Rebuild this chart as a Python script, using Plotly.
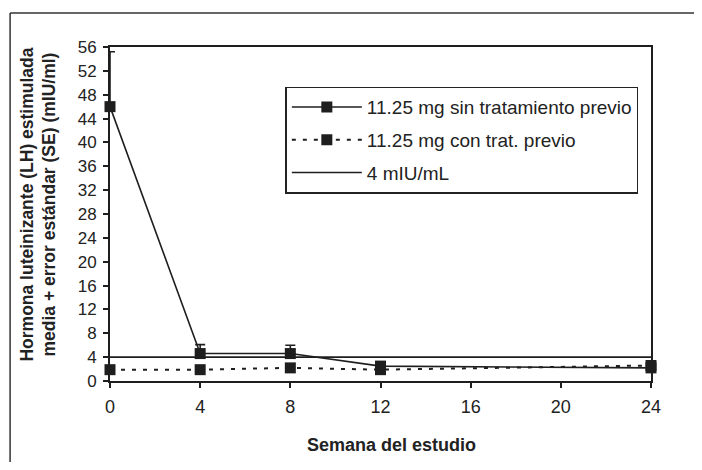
import plotly.graph_objects as go

weeks_a = [0, 4, 8, 12, 24]
lh_naive = [46.0, 4.6, 4.6, 2.5, 2.2]
lh_naive_err = [9.2, 1.5, 1.4, 0.0, 0.0]

weeks_b = [0, 4, 8, 12, 24]
lh_prev = [1.9, 1.9, 2.2, 1.9, 2.6]

ref_x = [0, 24]
ref_y = [4, 4]

x_ticks = [0, 4, 8, 12, 16, 20, 24]
y_ticks = list(range(0, 57, 4))

names = ["11.25 mg sin tratamiento previo", "11.25 mg con trat. previo", "4 mIU/mL"]

C = "#1e1e1e"
W, H = 686, 454
L, R, T, B = 101.5, 43, 39, 81
PW = W - L - R
PH = H - T - B

def px(xs):
    return (xs - 8 - L) / PW

def py(ys):
    return (H - B - (ys - 8)) / PH

fig = go.Figure()
fig.add_trace(go.Scatter(
    x=weeks_a, y=lh_naive, name=names[0], mode="lines+markers",
    line=dict(color=C, width=1.6),
    marker=dict(symbol="square", size=11, color=C),
    error_y=dict(type="data", array=lh_naive_err, arrayminus=[0]*5, symmetric=False,
                 color=C, thickness=1.6, width=5),
    cliponaxis=False, legendgroup="a"))
fig.add_trace(go.Scatter(
    x=weeks_b, y=lh_prev, name=names[1], mode="lines+markers",
    line=dict(color=C, width=2, dash="4px,7px"),
    marker=dict(symbol="square", size=11, color=C),
    cliponaxis=False, legendgroup="b"))
fig.add_trace(go.Scatter(
    x=ref_x, y=ref_y, name=names[2], mode="lines",
    line=dict(color=C, width=1.6), cliponaxis=False, legendgroup="c"))

fig.update_layout(
    width=W, height=H,
    margin=dict(l=L, r=R, t=T, b=B, autoexpand=False),
    paper_bgcolor="white", plot_bgcolor="white",
    font=dict(family="Liberation Sans, Arial, sans-serif", color="#222"),
    showlegend=True,
    legend=dict(x=px(285), y=py(86.7), xanchor="left", yanchor="top",
                bgcolor="white", bordercolor="#222", borderwidth=1.5,
                font=dict(size=19, color="#222"), itemwidth=70,
                tracegroupgap=5, traceorder="grouped"),
    xaxis=dict(range=[0, 24], tickvals=x_ticks, ticktext=[str(v) for v in x_ticks],
               showgrid=False, zeroline=False, showline=True, linecolor=C, linewidth=2,
               mirror=True, ticks="outside", ticklen=5, tickwidth=1.5, tickcolor=C,
               ticklabelstandoff=3,
               tickfont=dict(size=18, color="#222")),
    yaxis=dict(range=[0, 56], tickvals=y_ticks, ticktext=[str(v) for v in y_ticks],
               showgrid=False, zeroline=False, showline=True, linecolor=C, linewidth=2,
               mirror=True, ticks="outside", ticklen=5, tickwidth=1.5, tickcolor=C,
               ticklabelstandoff=3,
               tickfont=dict(size=17, color="#222")),
    annotations=[
        dict(text="<b>Hormona luteinizante (LH) estimulada<br>media + error estándar (SE) (mIU/ml)</b>",
             xref="paper", yref="paper", x=px(38), y=py(205),
             xanchor="center", yanchor="middle", textangle=-90, showarrow=False,
             font=dict(size=17.5, color="#222")),
        dict(text="<b>Semana del estudio</b>",
             xref="paper", yref="paper", x=px(391), y=py(445),
             xanchor="center", yanchor="middle", showarrow=False,
             font=dict(size=18, color="#222")),
    ],
    shapes=[
        dict(type="line", xref="paper", yref="paper",
             x0=px(9.5), x1=px(760), y0=py(13), y1=py(13),
             line=dict(color="#333", width=1.5)),
        dict(type="line", xref="paper", yref="paper",
             x0=px(9.5), x1=px(9.5), y0=py(13), y1=py(520),
             line=dict(color="#333", width=1.5)),
    ],
)

fig.write_html("out.html")
